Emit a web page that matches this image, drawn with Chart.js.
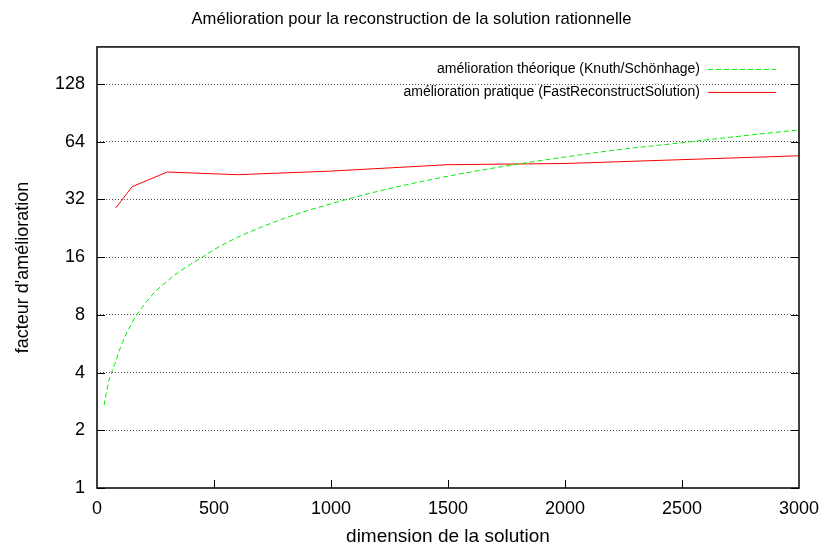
<!DOCTYPE html>
<html lang="fr">
  <head>
    <meta charset="UTF-8">
    <title>Amélioration</title>
    <style>
      body { margin: 0; background: #ffffff; }
    </style>
    <script src="https://cdn.jsdelivr.net/npm/chart.js@4/dist/chart.umd.min.js"></script>
    <script>
      // valeurs
      const theoX = [30, 50, 75, 100, 150, 200, 250, 300, 350, 400, 450, 500, 600, 700, 800, 900, 1000, 1200, 1500, 1800, 2000, 2200, 2500, 2800, 3000];
      const theoY = [2.7, 3.6, 4.4, 5.4, 7.3, 9.0, 10.6, 12.0, 13.4, 14.7, 16.0, 17.5, 20.3, 22.9, 25.5, 28.0, 30.4, 35.3, 42.3, 49.0, 53.3, 57.6, 63.3, 69.6, 73.8];
      const pratX = [80, 150, 300, 600, 1000, 1500, 2000, 3000];
      const pratY = [28.9, 37.3, 44.5, 43.1, 45.0, 48.6, 49.3, 54.1];
      const yTicks = [1, 2, 4, 8, 16, 32, 64, 128];
      const labels = ["amélioration théorique (Knuth/Schönhage)", "amélioration pratique (FastReconstructSolution)"];

      const FONT = "'Liberation Sans', Arial, sans-serif";

      // cadre, petites graduations et légende façon gnuplot
      const gnuplotFrame = {
        id: 'gnuplotFrame',
        afterDraw(chart) {
          const ctx = chart.ctx;
          const a = chart.chartArea;
          const xs = chart.scales.x;
          const ys = chart.scales.y;
          ctx.save();
          ctx.strokeStyle = '#000000';
          ctx.lineWidth = 1;
          ctx.setLineDash([]);
          ctx.beginPath();
          yTicks.forEach(v => {
            const py = Math.round(ys.getPixelForValue(v)) + 0.5;
            ctx.moveTo(a.left, py); ctx.lineTo(a.left + 8, py);
            ctx.moveTo(a.right, py); ctx.lineTo(a.right - 8, py);
          });
          for (let v = 500; v < 3000; v += 500) {
            const px = Math.round(xs.getPixelForValue(v)) + 0.5;
            ctx.moveTo(px, a.bottom); ctx.lineTo(px, a.bottom - 8);
          }
          ctx.stroke();
          ctx.lineWidth = 1.5;
          ctx.strokeRect(a.left, a.top, a.right - a.left, a.bottom - a.top);

          // légende
          ctx.font = '14px ' + FONT;
          ctx.fillStyle = '#000000';
          ctx.textAlign = 'right';
          ctx.textBaseline = 'middle';
          chart.data.datasets.forEach((ds, i) => {
            const y = a.top + 22 + i * 23;
            ctx.fillText(ds.label, 700, y);
            ctx.strokeStyle = ds.borderColor;
            ctx.lineWidth = 1;
            ctx.setLineDash(ds.borderDash || []);
            ctx.beginPath();
            ctx.moveTo(708, y + 0.5);
            ctx.lineTo(776, y + 0.5);
            ctx.stroke();
          });
          ctx.restore();
        }
      };

      window.onload = function () {
        const c = document.getElementById('chart').getContext('2d');
        new Chart(c, {
          type: 'line',
          data: {
            datasets: [{
              label: labels[0],
              data: theoX.map((x, i) => ({x: x, y: theoY[i]})),
              borderColor: '#00ee00',
              borderWidth: 1,
              borderDash: [5, 3],
              pointRadius: 0,
              cubicInterpolationMode: 'monotone',
              fill: false
            }, {
              label: labels[1],
              data: pratX.map((x, i) => ({x: x, y: pratY[i]})),
              borderColor: '#ff0000',
              borderWidth: 1,
              pointRadius: 0,
              tension: 0,
              fill: false
            }]
          },
          options: {
            responsive: false,
            animation: false,
            layout: {
              padding: { left: 0, right: 0, top: 0, bottom: 0 }
            },
            plugins: {
              legend: { display: false },
              tooltip: { enabled: false },
              title: {
                display: true,
                text: 'Amélioration pour la reconstruction de la solution rationnelle',
                color: '#000000',
                font: { family: FONT, size: 16.6, weight: 'normal' },
                padding: { top: 9, bottom: 18 }
              }
            },
            scales: {
              x: {
                type: 'linear',
                min: 0,
                max: 3000,
                afterFit: (s) => { s.height = 57; s.paddingLeft = 0; s.paddingRight = 24; },
                grid: { display: false, drawTicks: false },
                border: { display: false },
                ticks: {
                  stepSize: 500,
                  padding: 10,
                  color: '#000000',
                  maxRotation: 0,
                  font: { family: FONT, size: 18 },
                  callback: (v) => String(v)
                },
                title: {
                  display: true,
                  text: 'dimension de la solution',
                  color: '#000000',
                  font: { family: FONT, size: 19, lineHeight: 1 },
                  padding: { top: 0, bottom: -1 }
                }
              },
              y: {
                type: 'logarithmic',
                min: 1,
                max: 200,
                afterFit: (s) => { s.width = 97; s.paddingTop = 0; s.paddingBottom = 0; },
                afterBuildTicks: (s) => { s.ticks = yTicks.map(v => ({value: v})); },
                grid: {
                  drawTicks: false,
                  color: (ctx) => ctx.tick && ctx.tick.value === 1 ? 'rgba(0,0,0,0)' : '#555555',
                  lineWidth: 1
                },
                border: { display: false, dash: [1, 2] },
                ticks: {
                  padding: 12,
                  color: '#000000',
                  font: { family: FONT, size: 18 },
                  callback: (v) => String(v)
                },
                title: {
                  display: true,
                  text: "facteur d'amélioration",
                  color: '#000000',
                  font: { family: FONT, size: 18 },
                  padding: { top: 12, bottom: 0 }
                }
              }
            }
          },
          plugins: [gnuplotFrame]
        });
      }
    </script>
  </head>
  <body>
    <canvas id="chart" width="823" height="545"></canvas>
  </body>
</html>
